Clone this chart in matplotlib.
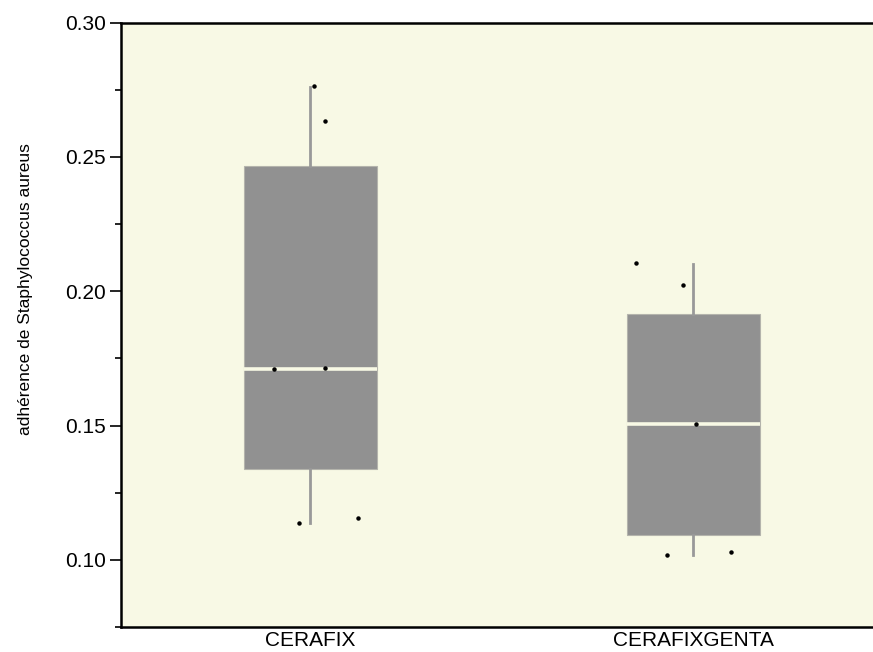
import matplotlib.pyplot as plt
import numpy as np

plt.rcParams['font.family'] = ['Liberation Sans', 'DejaVu Sans']

groups = ['CERAFIX', 'CERAFIXGENTA']

# box statistics
q1 = [0.1337, 0.1092]
med = [0.1712, 0.1505]
q3 = [0.2467, 0.1917]
whislo = [0.1136, 0.1018]
whishi = [0.2762, 0.2103]

# individual observations (value, horizontal jitter)
pts_y = [
    [0.2765, 0.2635, 0.1715, 0.1709, 0.1156, 0.1137],
    [0.2106, 0.2025, 0.1506, 0.1018, 0.1028],
]
pts_dx = [
    [0.009, 0.039, 0.039, -0.095, 0.125, -0.030],
    [-0.150, -0.026, 0.007, -0.069, 0.100],
]

bg = '#f8f9e5'
box_col = '#919191'

fig = plt.figure(figsize=(8.73, 6.52), dpi=100)
ax = fig.add_axes([0.1386, 0.0384, 0.8614, 0.9268])
ax.set_facecolor(bg)

stats = []
for i, g in enumerate(groups):
    stats.append(dict(label=g, q1=q1[i], med=med[i], q3=q3[i],
                      whislo=whislo[i], whishi=whishi[i], fliers=[]))

pos = np.arange(1, len(groups) + 1)
ax.bxp(stats, positions=pos, widths=0.347, patch_artist=True, showcaps=False,
       boxprops=dict(facecolor=box_col, edgecolor='#b4b4ac', linewidth=0.8),
       medianprops=dict(color=bg, linewidth=2.6),
       whiskerprops=dict(color='#999999', linewidth=2.0))

for i in range(len(groups)):
    xs = pos[i] + np.array(pts_dx[i])
    ax.plot(xs, pts_y[i], 'o', color='black', markersize=2.2, zorder=5)

ax.set_xlim(0.505, 2.47)
ax.set_ylim(0.075, 0.30)
ax.set_yticks([0.10, 0.15, 0.20, 0.25, 0.30])
ax.set_yticklabels(['0.10', '0.15', '0.20', '0.25', '0.30'])
ax.set_yticks(np.arange(0.075, 0.30, 0.05), minor=True)
ax.tick_params(axis='y', which='major', length=8, width=1.2, labelsize=15, pad=3)
ax.tick_params(axis='y', which='minor', length=4, width=1.2)
ax.tick_params(axis='x', length=0, labelsize=15, pad=3)
ax.set_xticks(pos)
ax.set_xticklabels(groups)

ax.set_ylabel('adhérence de Staphylococcus aureus', fontsize=12.5)
ax.yaxis.set_label_coords(-0.117, 0.559)
for s in ['left', 'top', 'bottom']:
    ax.spines[s].set_linewidth(1.8)
ax.spines['right'].set_visible(False)

fig.savefig('out.png', dpi=100)
